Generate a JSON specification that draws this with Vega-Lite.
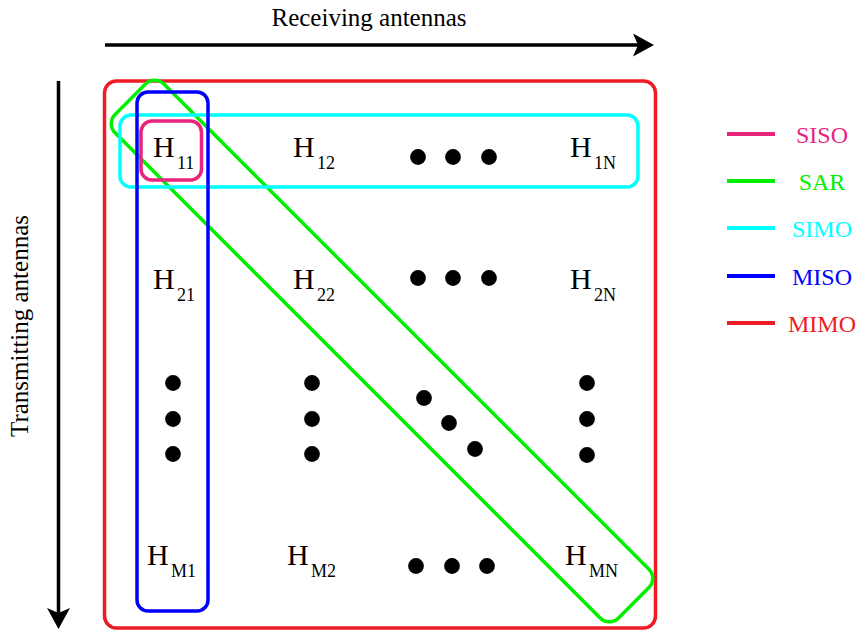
{
  "$schema": "https://vega.github.io/schema/vega-lite/v6.json",
  "width": 860,
  "height": 631,
  "autosize": {"type": "fit", "contains": "padding"},
  "padding": 0,
  "background": "white",
  "config": {"view": {"stroke": null}},
  "datasets": {
    "outer": [{"name": "MIMO", "x1": 104.5, "x2": 655.5, "y1": 81, "y2": 628}],
    "inner": [
      {"name": "SIMO", "x1": 120, "x2": 638, "y1": 115, "y2": 187},
      {"name": "MISO", "x1": 137, "x2": 208, "y1": 92, "y2": 611},
      {"name": "SISO", "x1": 141, "x2": 201.5, "y1": 121, "y2": 180}
    ],
    "diag": [{"name": "SAR", "x": 382, "y": 351}],
    "cells": [
      {"x": 153, "y": 157, "sub": "11"},
      {"x": 293, "y": 157, "sub": "12"},
      {"x": 570, "y": 157, "sub": "1N"},
      {"x": 153, "y": 289, "sub": "21"},
      {"x": 293, "y": 289, "sub": "22"},
      {"x": 570, "y": 289, "sub": "2N"},
      {"x": 147, "y": 565, "sub": "M1"},
      {"x": 287, "y": 565, "sub": "M2"},
      {"x": 565, "y": 565, "sub": "MN"}
    ],
    "dots": [
      {"x": 418, "y": 157}, {"x": 453, "y": 157}, {"x": 489, "y": 157},
      {"x": 418, "y": 278}, {"x": 453, "y": 278}, {"x": 489, "y": 278},
      {"x": 416, "y": 566}, {"x": 452, "y": 566}, {"x": 487, "y": 566},
      {"x": 173, "y": 383}, {"x": 173, "y": 419}, {"x": 173, "y": 454},
      {"x": 312, "y": 383}, {"x": 312, "y": 419}, {"x": 312, "y": 454},
      {"x": 587, "y": 383}, {"x": 587, "y": 419}, {"x": 587, "y": 455},
      {"x": 424, "y": 398}, {"x": 449, "y": 423}, {"x": 475, "y": 449}
    ],
    "legend": [
      {"name": "SISO", "y": 134},
      {"name": "SAR", "y": 181},
      {"name": "SIMO", "y": 228},
      {"name": "MISO", "y": 276},
      {"name": "MIMO", "y": 323}
    ]
  },
  "layer": [
    {
      "data": {"values": [{"x": 105, "x2": 640, "y": 45, "y2": 45}, {"x": 58.5, "x2": 58.5, "y": 81, "y2": 614}]},
      "mark": {"type": "rule", "color": "black", "strokeWidth": 3.5},
      "encoding": {
        "x": {"field": "x", "type": "quantitative", "scale": {"domain": [0, 860], "nice": false, "zero": false}, "axis": null},
        "x2": {"field": "x2"},
        "y": {"field": "y", "type": "quantitative", "scale": {"domain": [0, 631], "nice": false, "zero": false, "reverse": true}, "axis": null},
        "y2": {"field": "y2"}
      }
    },
    {
      "data": {"values": [{"x": 654, "y": 45}]},
      "mark": {"type": "point", "shape": "M 0 0 L -21 -11.5 L -16 0 L -21 11.5 Z", "size": 4, "filled": true, "color": "black", "opacity": 1, "angle": 0},
      "encoding": {
        "x": {"field": "x", "type": "quantitative", "scale": {"domain": [0, 860], "nice": false, "zero": false}, "axis": null},
        "y": {"field": "y", "type": "quantitative", "scale": {"domain": [0, 631], "nice": false, "zero": false, "reverse": true}, "axis": null}
      }
    },
    {
      "data": {"values": [{"x": 58.5, "y": 629}]},
      "mark": {"type": "point", "shape": "M 0 0 L -21 -11.5 L -16 0 L -21 11.5 Z", "size": 4, "filled": true, "color": "black", "opacity": 1, "angle": 90},
      "encoding": {
        "x": {"field": "x", "type": "quantitative", "scale": {"domain": [0, 860], "nice": false, "zero": false}, "axis": null},
        "y": {"field": "y", "type": "quantitative", "scale": {"domain": [0, 631], "nice": false, "zero": false, "reverse": true}, "axis": null}
      }
    },
    {
      "data": {"values": [{"label": "Receiving antennas", "x": 369, "y": 26}]},
      "mark": {"type": "text", "font": "Liberation Serif", "fontSize": 25, "align": "center", "baseline": "alphabetic", "color": "black"},
      "encoding": {
        "x": {"field": "x", "type": "quantitative", "scale": {"domain": [0, 860], "nice": false, "zero": false}, "axis": null},
        "y": {"field": "y", "type": "quantitative", "scale": {"domain": [0, 631], "nice": false, "zero": false, "reverse": true}, "axis": null},
        "text": {"field": "label"}
      }
    },
    {
      "data": {"values": [{"label": "Transmitting antennas", "x": 28, "y": 326}]},
      "mark": {"type": "text", "font": "Liberation Serif", "fontSize": 25, "align": "center", "baseline": "alphabetic", "angle": 270, "color": "black"},
      "encoding": {
        "x": {"field": "x", "type": "quantitative", "scale": {"domain": [0, 860], "nice": false, "zero": false}, "axis": null},
        "y": {"field": "y", "type": "quantitative", "scale": {"domain": [0, 631], "nice": false, "zero": false, "reverse": true}, "axis": null},
        "text": {"field": "label"}
      }
    },
    {
      "data": {"name": "outer"},
      "mark": {"type": "rect", "filled": false, "strokeWidth": 3.5, "cornerRadius": 12},
      "encoding": {
        "x": {"field": "x1", "type": "quantitative", "scale": {"domain": [0, 860], "nice": false, "zero": false}, "axis": null},
        "x2": {"field": "x2"},
        "y": {"field": "y1", "type": "quantitative", "scale": {"domain": [0, 631], "nice": false, "zero": false, "reverse": true}, "axis": null},
        "y2": {"field": "y2"},
        "stroke": {"field": "name", "type": "nominal", "scale": {"domain": ["SISO", "SAR", "SIMO", "MISO", "MIMO"], "range": ["#e8247c", "#00f000", "#00ffff", "#0000ff", "#ee1c25"]}, "legend": null}
      }
    },
    {
      "data": {"name": "diag"},
      "mark": {"type": "point", "shape": "M -343 -34.5 L 343 -34.5 A 13 13 0 0 1 356 -21.5 L 356 21.5 A 13 13 0 0 1 343 34.5 L -343 34.5 A 13 13 0 0 1 -356 21.5 L -356 -21.5 A 13 13 0 0 1 -343 -34.5 Z", "size": 4, "filled": false, "strokeWidth": 3.5, "opacity": 1, "angle": 45},
      "encoding": {
        "x": {"field": "x", "type": "quantitative", "scale": {"domain": [0, 860], "nice": false, "zero": false}, "axis": null},
        "y": {"field": "y", "type": "quantitative", "scale": {"domain": [0, 631], "nice": false, "zero": false, "reverse": true}, "axis": null},
        "stroke": {"field": "name", "type": "nominal", "scale": {"domain": ["SISO", "SAR", "SIMO", "MISO", "MIMO"], "range": ["#e8247c", "#00f000", "#00ffff", "#0000ff", "#ee1c25"]}, "legend": null}
      }
    },
    {
      "data": {"name": "inner"},
      "mark": {"type": "rect", "filled": false, "strokeWidth": 3.5, "cornerRadius": 11},
      "encoding": {
        "x": {"field": "x1", "type": "quantitative", "scale": {"domain": [0, 860], "nice": false, "zero": false}, "axis": null},
        "x2": {"field": "x2"},
        "y": {"field": "y1", "type": "quantitative", "scale": {"domain": [0, 631], "nice": false, "zero": false, "reverse": true}, "axis": null},
        "y2": {"field": "y2"},
        "stroke": {"field": "name", "type": "nominal", "scale": {"domain": ["SISO", "SAR", "SIMO", "MISO", "MIMO"], "range": ["#e8247c", "#00f000", "#00ffff", "#0000ff", "#ee1c25"]}, "legend": null}
      }
    },
    {
      "data": {"name": "cells"},
      "mark": {"type": "text", "text": "H", "font": "Liberation Serif", "fontSize": 30, "align": "left", "baseline": "alphabetic", "color": "black"},
      "encoding": {
        "x": {"field": "x", "type": "quantitative", "scale": {"domain": [0, 860], "nice": false, "zero": false}, "axis": null},
        "y": {"field": "y", "type": "quantitative", "scale": {"domain": [0, 631], "nice": false, "zero": false, "reverse": true}, "axis": null}
      }
    },
    {
      "data": {"name": "cells"},
      "mark": {"type": "text", "font": "Liberation Serif", "fontSize": 18, "align": "left", "baseline": "alphabetic", "dx": 24, "dy": 12, "color": "black"},
      "encoding": {
        "x": {"field": "x", "type": "quantitative", "scale": {"domain": [0, 860], "nice": false, "zero": false}, "axis": null},
        "y": {"field": "y", "type": "quantitative", "scale": {"domain": [0, 631], "nice": false, "zero": false, "reverse": true}, "axis": null},
        "text": {"field": "sub"}
      }
    },
    {
      "data": {"name": "dots"},
      "mark": {"type": "point", "shape": "circle", "size": 250, "filled": true, "color": "black", "opacity": 1},
      "encoding": {
        "x": {"field": "x", "type": "quantitative", "scale": {"domain": [0, 860], "nice": false, "zero": false}, "axis": null},
        "y": {"field": "y", "type": "quantitative", "scale": {"domain": [0, 631], "nice": false, "zero": false, "reverse": true}, "axis": null}
      }
    },
    {
      "data": {"name": "legend"},
      "mark": {"type": "rule", "strokeWidth": 4},
      "encoding": {
        "x": {"datum": 727, "type": "quantitative", "scale": {"domain": [0, 860], "nice": false, "zero": false}, "axis": null},
        "x2": {"datum": 775},
        "y": {"field": "y", "type": "quantitative", "scale": {"domain": [0, 631], "nice": false, "zero": false, "reverse": true}, "axis": null},
        "color": {"field": "name", "type": "nominal", "scale": {"domain": ["SISO", "SAR", "SIMO", "MISO", "MIMO"], "range": ["#e8247c", "#00f000", "#00ffff", "#0000ff", "#ee1c25"]}, "legend": null}
      }
    },
    {
      "data": {"name": "legend"},
      "mark": {"type": "text", "font": "Liberation Serif", "fontSize": 24, "align": "center", "baseline": "alphabetic", "dy": 9},
      "encoding": {
        "x": {"datum": 822, "type": "quantitative", "scale": {"domain": [0, 860], "nice": false, "zero": false}, "axis": null},
        "y": {"field": "y", "type": "quantitative", "scale": {"domain": [0, 631], "nice": false, "zero": false, "reverse": true}, "axis": null},
        "text": {"field": "name"},
        "color": {"field": "name", "type": "nominal", "scale": {"domain": ["SISO", "SAR", "SIMO", "MISO", "MIMO"], "range": ["#e8247c", "#00f000", "#00ffff", "#0000ff", "#ee1c25"]}, "legend": null}
      }
    }
  ]
}
